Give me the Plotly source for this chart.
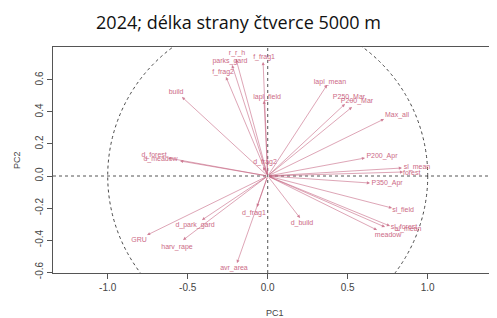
import plotly.graph_objects as go

# ---- data ----
var_names = ["r_r_h", "parks_gard", "f_frag2", "f_frag1", "lapl_field", "build",
             "lapl_mean", "P250_Mar", "P200_Mar", "Max_all", "P200_Apr", "sl_mean",
             "forest", "P350_Apr", "sl_field", "sl_forest", "al_mean", "meadow",
             "d_build", "avr_area", "d_frag1", "d_park_gard", "harv_rape", "GRU",
             "d_forest", "d_meadow", "d_frag2"]
pc1 = [-0.198, -0.223, -0.261, -0.029, -0.023, -0.536,
       0.371, 0.483, 0.527, 0.727, 0.608, 0.839,
       0.846, 0.639, 0.777, 0.764, 0.733, 0.683,
       0.202, -0.192, -0.067, -0.411, -0.529, -0.754,
       -0.623, -0.548, -0.029]
pc2 = [0.731, 0.694, 0.619, 0.7125, 0.47, 0.494,
       0.569, 0.45, 0.431, 0.356, 0.1125, 0.05,
       0.025, -0.044, -0.2, -0.3125, -0.319, -0.3375,
       -0.2625, -0.544, -0.194, -0.275, -0.4, -0.369,
       0.1125, 0.094, 0.056]
label_x = [-0.192, -0.236, -0.279, -0.023, -0.004, -0.573,
           0.389, 0.508, 0.558, 0.808, 0.714, 0.933,
           0.9, 0.746, 0.846, 0.852, 0.877, 0.752,
           0.214, -0.211, -0.086, -0.454, -0.567, -0.804,
           -0.71, -0.67, -0.017]
label_y = [0.769, 0.719, 0.65, 0.744, 0.494, 0.525,
           0.5875, 0.494, 0.469, 0.381, 0.125, 0.056,
           0.019, -0.044, -0.2125, -0.319, -0.331, -0.369,
           -0.294, -0.575, -0.231, -0.306, -0.444, -0.4,
           0.131, 0.106, 0.0875]

x_ticks = [-1.0, -0.5, 0.0, 0.5, 1.0]
x_ticktext = ["-1.0", "-0.5", "0.0", "0.5", "1.0"]
y_ticks = [-0.6, -0.4, -0.2, 0.0, 0.2, 0.4, 0.6]
y_ticktext = ["-0.6", "-0.4", "-0.2", "0.0", "0.2", "0.4", "0.6"]

title_text = "2024; délka strany čtverce 5000 m"

# ---- styles ----
ARROW_COL = "rgba(196,96,126,0.8)"
TEXT_COL = "#cc6a86"
AXIS_COL = "#555555"
OFF = 8  # default page body margin compensation

W, H = 497, 318
plot_left, plot_top, plot_right, plot_bottom = 53 - OFF, 47 - OFF, 497 - OFF, 273 - OFF
plot_w = plot_right - plot_left
plot_h = plot_bottom - plot_top

fig = go.Figure()

fig.add_trace(go.Scatter(
    x=label_x, y=label_y, text=var_names, mode="text",
    textfont=dict(family="Liberation Sans, Arial", size=7, color=TEXT_COL),
    textposition="middle center", hoverinfo="skip", showlegend=False,
    cliponaxis=False,
))

annotations = []
for xv, yv in zip(pc1, pc2):
    annotations.append(dict(
        x=xv, y=yv, ax=0, ay=0, xref="x", yref="y", axref="x", ayref="y",
        text="", showarrow=True, arrowhead=2, arrowsize=0.9, arrowwidth=0.7,
        arrowcolor=ARROW_COL, standoff=0,
    ))

annotations.append(dict(
    text="PC1", x=(275 - OFF - plot_left) / plot_w, y=-(313 - OFF - plot_bottom) / plot_h,
    xref="paper", yref="paper",
    xanchor="center", yanchor="middle", showarrow=False,
    font=dict(family="Liberation Sans, Arial", size=9, color="#444444"),
))
annotations.append(dict(
    text="PC2", x=(17 - OFF - plot_left) / plot_w, y=0.5, xref="paper", yref="paper",
    xanchor="center", yanchor="middle", showarrow=False, textangle=-90,
    font=dict(family="Liberation Sans, Arial", size=9, color="#444444"),
))

shapes = [
    dict(type="circle", xref="x", yref="y", x0=-1, x1=1, y0=-1, y1=1,
         line=dict(color="#333333", width=0.9, dash="3px,3px"), layer="below"),
    dict(type="line", xref="x", yref="paper", x0=0, x1=0, y0=0, y1=1,
         line=dict(color="#555555", width=1, dash="dot"), layer="below"),
    dict(type="line", xref="paper", yref="y", x0=0, x1=1, y0=0, y1=0,
         line=dict(color="#555555", width=1, dash="dot"), layer="below"),
]

fig.update_layout(
    width=W, height=H,
    margin=dict(l=plot_left, r=W - plot_right, t=plot_top, b=H - plot_bottom, pad=0),
    paper_bgcolor="white", plot_bgcolor="white",
    title=dict(text=title_text, x=(238.5 - OFF) / W, y=1 - (23 - OFF) / H,
               xref="container", yref="container",
               xanchor="center", yanchor="middle",
               font=dict(family="Open Sans", size=18, color="#111111")),
    xaxis=dict(range=[-1.342, 1.433], tickvals=x_ticks, ticktext=x_ticktext,
               showgrid=False, zeroline=False, showline=True, mirror=True,
               linecolor=AXIS_COL, linewidth=1, ticks="outside", ticklen=5,
               tickcolor=AXIS_COL,
               tickfont=dict(family="Liberation Sans, Arial", size=10, color="#444444")),
    yaxis=dict(range=[-0.606, 0.806], tickvals=y_ticks, ticktext=y_ticktext,
               showgrid=False, zeroline=False, showline=True, mirror=False,
               linecolor=AXIS_COL, linewidth=1, ticks="outside", ticklen=5,
               tickcolor=AXIS_COL, tickangle=-90,
               tickfont=dict(family="Liberation Sans, Arial", size=10, color="#444444")),
    annotations=annotations, shapes=shapes, showlegend=False,
)

fig.write_html("out.html")
